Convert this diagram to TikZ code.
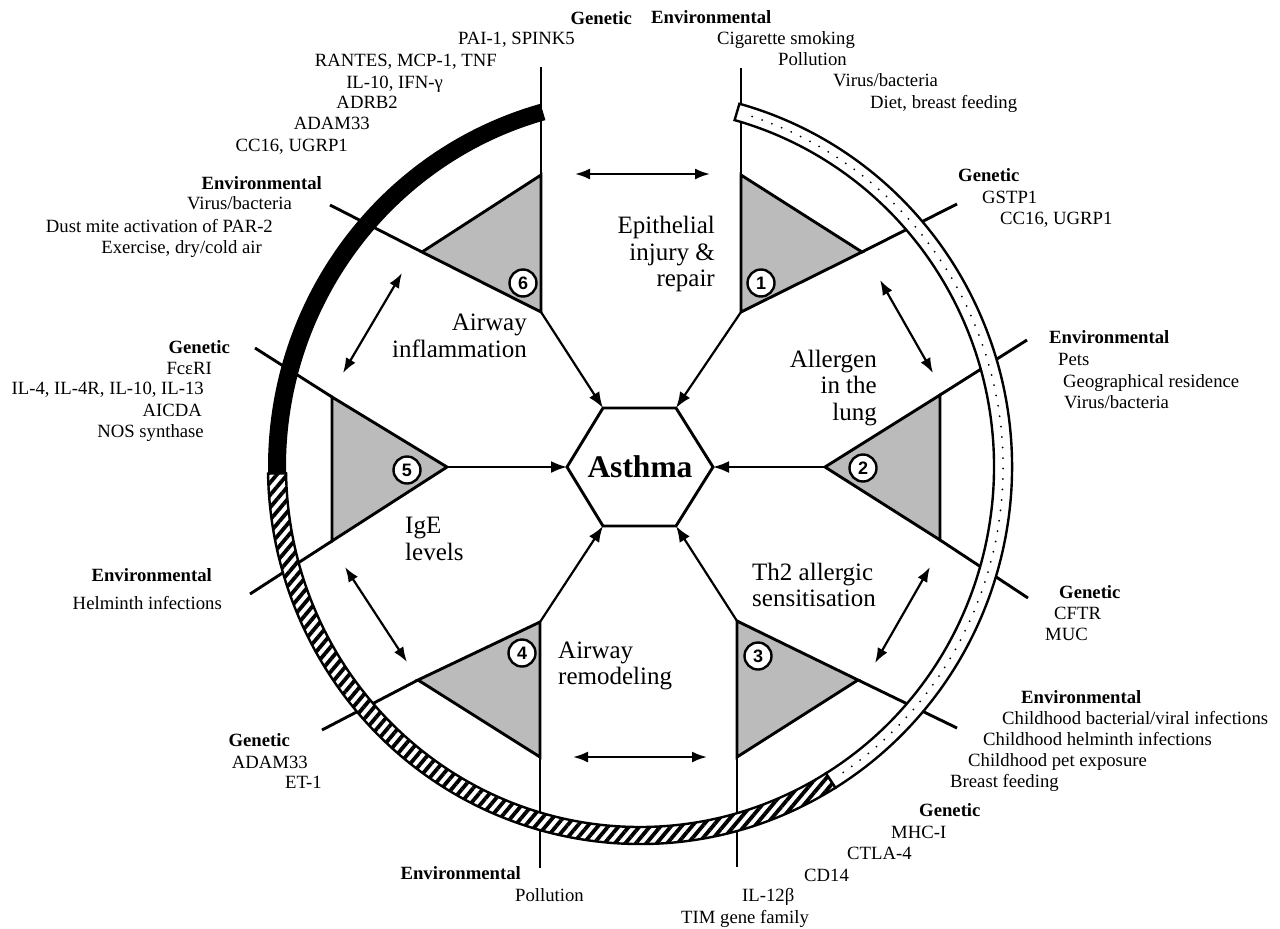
\documentclass[tikz,border=0pt]{standalone}
\usepackage{fontspec}
\setmainfont{Liberation Serif}
\newfontfamily\numfont{Liberation Sans}
\usetikzlibrary{arrows.meta,patterns.meta}

\definecolor{wedgegrey}{HTML}{BBBBBB}

\tikzset{
  spoke/.style={line width=2.9pt},
  wedge/.style={fill=wedgegrey, draw=black, line width=2.9pt, line join=miter},
  feeds/.style={-{Latex[length=16pt,width=12pt]}, line width=2.2pt},
  link/.style={{Latex[length=15pt,width=11pt]}-{Latex[length=15pt,width=11pt]}, line width=2.2pt},
  numring/.style={circle, draw, fill=white, line width=2.4pt, minimum size=27pt, inner sep=0pt, font=\numfont\bfseries\fontsize{18}{18}\selectfont},
  stage/.style={inner sep=0pt, font=\fontsize{25}{26.5}\selectfont},
  factor/.style={inner sep=0pt, font=\fontsize{18.7}{21}\selectfont},
  factorhead/.style={inner sep=0pt, font=\fontsize{18.7}{21}\selectfont\bfseries},
}

% one piece of the outer ring, between two angles
\newcommand\ringseg[2]{(#1:372 and 377) arc[start angle=#1, end angle=#2, x radius=372, y radius=377]
  -- (#2:354 and 360) arc[start angle=#2, end angle=#1, x radius=354, y radius=360] -- cycle}

\begin{document}
\begin{tikzpicture}[x=1pt, y=-1pt]
\useasboundingbox (0,0) rectangle (1280,929);

% hexagon
\coordinate (c) at (640,467);
\coordinate (h1) at (676,408);
\coordinate (h2) at (713,467);
\coordinate (h3) at (676,526);
\coordinate (h4) at (603,526);
\coordinate (h5) at (567,467);
\coordinate (h6) at (603,408);
\draw[line width=2.9pt, line join=miter] (h1) -- (h2) -- (h3) -- (h4) -- (h5) -- (h6) -- cycle;
\node[inner sep=0pt, font=\bfseries\fontsize{31.5}{32}\selectfont] (asthma) at (c) {Asthma};

% triangle tips and corners
\coordinate (p1) at (741,312); \coordinate (a1) at (741,175); \coordinate (b1) at (862,252);
\coordinate (p2) at (825,467); \coordinate (a2) at (940,395); \coordinate (b2) at (940,540);
\coordinate (p3) at (737,621); \coordinate (a3) at (858,680); \coordinate (b3) at (737,757);
\coordinate (p4) at (540,622); \coordinate (a4) at (540,757); \coordinate (b4) at (418,680);
\coordinate (p5) at (447,467); \coordinate (a5) at (332,541); \coordinate (b5) at (332,397);
\coordinate (p6) at (541,312); \coordinate (a6) at (422,252); \coordinate (b6) at (541,175);

% outer ends of the spokes
\coordinate (e1) at (741,68);   \coordinate (f1) at (957,204);
\coordinate (e2) at (1027,340); \coordinate (f2) at (1028,598);
\coordinate (e3) at (957,728);  \coordinate (f3) at (737,867);
\coordinate (e4) at (540,868);  \coordinate (f4) at (322,730);
\coordinate (e5) at (250,594);  \coordinate (f5) at (255,348);
\coordinate (e6) at (330,205);  \coordinate (f6) at (541,67);

\draw[spoke] (e1) -- (p1);
\draw[spoke] (b1) -- (f1);
\draw[spoke] (a2) -- (e2);
\draw[spoke] (b2) -- (f2);
\draw[spoke] (a3) -- (e3);
\draw[spoke] (p3) -- (f3);
\draw[spoke] (p4) -- (e4);
\draw[spoke] (b4) -- (f4);
\draw[spoke] (a5) -- (e5);
\draw[spoke] (b5) -- (f5);
\draw[spoke] (a6) -- (e6);
\draw[spoke] (f6) -- (p6);

% the six triangles
\draw[wedge] (p1) -- (a1) -- (b1) -- cycle;
\draw[wedge] (p2) -- (a2) -- (b2) -- cycle;
\draw[wedge] (p3) -- (a3) -- (b3) -- cycle;
\draw[wedge] (p4) -- (a4) -- (b4) -- cycle;
\draw[wedge] (p5) -- (a5) -- (b5) -- cycle;
\draw[wedge] (p6) -- (a6) -- (b6) -- cycle;

\node[numring] (n1) at (761,283) {1};
\node[numring] (n2) at (863,468) {2};
\node[numring] (n3) at (758,656) {3};
\node[numring] (n4) at (522,653) {4};
\node[numring] (n5) at (407,470) {5};
\node[numring] (n6) at (523,283) {6};

% into the hexagon
\draw[feeds] (p1) -- (h1);
\draw[feeds] (p2) -- (h2);
\draw[feeds] (p3) -- (h3);
\draw[feeds] (p4) -- (h4);
\draw[feeds] (p5) -- (h5);
\draw[feeds] (p6) -- (h6);

% between neighbours
\coordinate (l1a) at (575,174); \coordinate (l1b) at (710,174);
\coordinate (l2a) at (880,280); \coordinate (l2b) at (933,373);
\coordinate (l3a) at (930,567); \coordinate (l3b) at (875,663);
\coordinate (l4a) at (707,757); \coordinate (l4b) at (573,757);
\coordinate (l5a) at (407,662); \coordinate (l5b) at (345,567);
\coordinate (l6a) at (343,373); \coordinate (l6b) at (402,273);
\draw[link] (l1a) -- (l1b);
\draw[link] (l2a) -- (l2b);
\draw[link] (l3a) -- (l3b);
\draw[link] (l4a) -- (l4b);
\draw[link] (l5a) -- (l5b);
\draw[link] (l6a) -- (l6b);

% outer ring
\begin{scope}[shift={(c)}]
\fill \ringseg{179}{254.5};
\fill[white] \ringseg{58.3}{179};
\draw[line width=2.4pt, pattern={Lines[angle=50,distance=8pt,line width=3.8pt]}] \ringseg{58.3}{179};
\fill[white] \ringseg{-74.5}{58.3};
\draw[line width=2pt, line cap=round, dash pattern=on 0pt off 10.5pt] (-72:363 and 368.5) arc[start angle=-72, end angle=56, x radius=363, y radius=368.5];
\draw[line width=2.4pt] \ringseg{-74.5}{58.3};
\end{scope}

% stage labels
\node[stage, align=right, anchor=east] (epi) at (715,254) {Epithelial\\injury \&\\repair};
\node[stage, align=right, anchor=east] (allergen) at (877,388) {Allergen\\in the\\lung};
\node[stage, align=left, anchor=west] (th2) at (752,585) {Th2 allergic\\sensitisation};
\node[stage, align=left, anchor=west] (remodel) at (558,666) {Airway\\remodeling};
\node[stage, align=left, anchor=west] (ige) at (405,539) {IgE\\levels};
\node[stage, align=right, anchor=east] (inflam) at (527,336) {Airway\\inflammation};

% top left, genetic
\node[factorhead, anchor=base east] (gtl0) at (632,24) {Genetic};
\node[factor, anchor=base east] (gtl1) at (575,44) {PAI-1, SPINK5};
\node[factor, anchor=base east] (gtl2) at (497,66) {RANTES, MCP-1, TNF};
\node[factor, anchor=base east] (gtl3) at (443,88) {IL-10, IFN-γ};
\node[factor, anchor=base east] (gtl4) at (398,108) {ADRB2};
\node[factor, anchor=base east] (gtl5) at (370,129) {ADAM33};
\node[factor, anchor=base east] (gtl6) at (348,151) {CC16, UGRP1};
% top left, environmental
\node[factorhead, anchor=base east] (etl0) at (322,189) {Environmental};
\node[factor, anchor=base east] (etl1) at (292,209) {Virus/bacteria};
\node[factor, anchor=base east] (etl2) at (273,232) {Dust mite activation of PAR-2};
\node[factor, anchor=base east] (etl3) at (262,253) {Exercise, dry/cold air};
% left, genetic
\node[factorhead, anchor=base east] (gl0) at (230,353) {Genetic};
\node[factor, anchor=base east] (gl1) at (212,374) {FcεRI};
\node[factor, anchor=base east] (gl2) at (204,394) {IL-4, IL-4R, IL-10, IL-13};
\node[factor, anchor=base east] (gl3) at (202,416) {AICDA};
\node[factor, anchor=base east] (gl4) at (204,437) {NOS synthase};
% left, environmental
\node[factorhead, anchor=base east] (el0) at (212,581) {Environmental};
\node[factor, anchor=base east] (el1) at (222,609) {Helminth infections};
% bottom left, genetic
\node[factorhead, anchor=base east] (gbl0) at (290,746) {Genetic};
\node[factor, anchor=base east] (gbl1) at (308,768) {ADAM33};
\node[factor, anchor=base east] (gbl2) at (322,788) {ET-1};
% bottom, environmental
\node[factorhead, anchor=base east] (eb0) at (521,879) {Environmental};
\node[factor, anchor=base west] (eb1) at (515,901) {Pollution};

% top right, environmental
\node[factorhead, anchor=base west] (etr0) at (651,23) {Environmental};
\node[factor, anchor=base west] (etr1) at (717,44) {Cigarette smoking};
\node[factor, anchor=base west] (etr2) at (778,65) {Pollution};
\node[factor, anchor=base west] (etr3) at (833,86) {Virus/bacteria};
\node[factor, anchor=base west] (etr4) at (870,108) {Diet, breast feeding};
% top right, genetic
\node[factorhead, anchor=base west] (gtr0) at (958,181) {Genetic};
\node[factor, anchor=base west] (gtr1) at (982,203) {GSTP1};
\node[factor, anchor=base west] (gtr2) at (1000,224) {CC16, UGRP1};
% right, environmental
\node[factorhead, anchor=base west] (er0) at (1049,343) {Environmental};
\node[factor, anchor=base west] (er1) at (1058,365) {Pets};
\node[factor, anchor=base west] (er2) at (1063,387) {Geographical residence};
\node[factor, anchor=base west] (er3) at (1064,408) {Virus/bacteria};
% right, genetic
\node[factorhead, anchor=base west] (gr0) at (1059,598) {Genetic};
\node[factor, anchor=base west] (gr1) at (1054,619) {CFTR};
\node[factor, anchor=base west] (gr2) at (1045,640) {MUC};
% bottom right, environmental
\node[factorhead, anchor=base west] (ebr0) at (1021,703) {Environmental};
\node[factor, anchor=base west] (ebr1) at (1002,724) {Childhood bacterial/viral infections};
\node[factor, anchor=base west] (ebr2) at (983,745) {Childhood helminth infections};
\node[factor, anchor=base west] (ebr3) at (968,766) {Childhood pet exposure};
\node[factor, anchor=base west] (ebr4) at (950,787) {Breast feeding};
% bottom right, genetic
\node[factorhead, anchor=base west] (gbr0) at (919,816) {Genetic};
\node[factor, anchor=base west] (gbr1) at (891,838) {MHC-I};
\node[factor, anchor=base west] (gbr2) at (847,859) {CTLA-4};
\node[factor, anchor=base west] (gbr3) at (804,881) {CD14};
\node[factor, anchor=base west] (gbr4) at (742,901) {IL-12β};
\node[factor, anchor=base west] (gbr5) at (681,923) {TIM gene family};
\end{tikzpicture}
\end{document}
